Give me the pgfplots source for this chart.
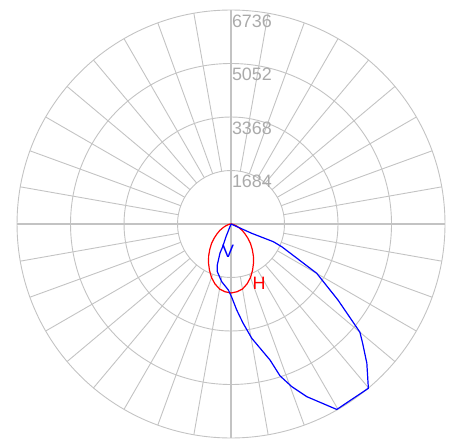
\documentclass[border=0pt]{standalone}
\usepackage{fontspec}
\setmainfont{Liberation Sans}
\usepackage{pgfplots}
\pgfplotsset{compat=1.18}
\usepackage{pgfplotstable}
\definecolor{gridgray}{RGB}{195,195,195}
\definecolor{labgray}{RGB}{170,170,170}
\definecolor{curveblue}{RGB}{0,0,255}
\definecolor{curvered}{RGB}{255,0,0}
% C0-C180 plane (gamma in degrees from nadir, + to the right), intensity in cd
\pgfplotstableread{
g I
-20 0
-21.5 429
-20.1 761
-20.8 976
-18.5 1361
-16.0 1562
-9.2 1839
-2.3 2080
0.5 2300
3.8 2713
6.9 3139
10.3 3657
16.0 4454
17.9 5027
20.5 5467
23.7 5936
29.7 6721
39.9 6741
44.3 6122
47.8 5594
50.0 5296
54.6 4131
60.1 3112
65.9 1748
67.3 1444
65.8 714
70 0
}\curveV
% C90-C270 plane
\pgfplotstableread{
g I
-90 0
-85 31
-80 63
-75 110
-70 189
-65 283
-60 409
-55 535
-50 693
-45 866
-40 1039
-35 1228
-30 1417
-25 1605
-20 1794
-15 1952
-10 2078
-5 2141
0 2172
5 2141
10 2078
15 1952
20 1794
25 1605
30 1417
35 1228
40 1039
45 866
50 693
55 535
60 409
65 283
70 189
75 110
80 63
85 31
90 0
}\curveH
\begin{document}
\begin{tikzpicture}
\begin{axis}[
  scale only axis, width=449bp, height=440bp,
  xmin=-7272, xmax=6862, ymin=-6799, ymax=7051,
  hide axis, clip=false]
\path[draw=none] (rel axis cs:0,0) rectangle (rel axis cs:1,1);
\draw[gridgray, line width=0.9bp] (axis cs:0,0) circle[radius=1684];
\draw[gridgray, line width=0.9bp] (axis cs:0,0) circle[radius=3368];
\draw[gridgray, line width=0.9bp] (axis cs:0,0) circle[radius=5052];
\draw[gridgray, line width=0.9bp] (axis cs:0,0) circle[radius=6736];
\pgfplotsinvokeforeach{10,20,30,40,50,60,70,80,100,110,120,130,140,150,160,170,190,200,210,220,230,240,250,260,280,290,300,310,320,330,340,350}{
  \draw[gridgray, line width=0.9bp] (axis cs:{1684*cos(#1)},{1684*sin(#1)}) -- (axis cs:{6736*cos(#1)},{6736*sin(#1)});
}
\draw[gridgray, line width=1.3bp] (axis cs:-6736,0) -- (axis cs:6736,0);
\draw[gridgray, line width=1.3bp] (axis cs:0,-6736) -- (axis cs:0,6736);
\node[anchor=base west, inner sep=0pt, text=labgray, font=\fontsize{18}{21}\selectfont] at (axis cs:25,1149) {1684};
\node[anchor=base west, inner sep=0pt, text=labgray, font=\fontsize{18}{21}\selectfont] at (axis cs:25,2833) {3368};
\node[anchor=base west, inner sep=0pt, text=labgray, font=\fontsize{18}{21}\selectfont] at (axis cs:25,4517) {5052};
\node[anchor=base west, inner sep=0pt, text=labgray, font=\fontsize{18}{21}\selectfont] at (axis cs:25,6201) {6736};
\addplot[curvered, line width=1.2bp] table[x expr={\thisrow{I}*sin(\thisrow{g})}, y expr={-\thisrow{I}*cos(\thisrow{g})}] {\curveH};
\addplot[curveblue, line width=1.2bp] table[x expr={\thisrow{I}*sin(\thisrow{g})}, y expr={-\thisrow{I}*cos(\thisrow{g})}] {\curveV};
\node[text=curvered, inner sep=0pt, font=\fontsize{18}{21}\selectfont] at (axis cs:881,-1857) {H};
\node[text=curveblue, inner sep=0pt, font=\fontsize{18}{21}\selectfont] at (axis cs:-94,-850) {V};
\end{axis}
\end{tikzpicture}
\end{document}
